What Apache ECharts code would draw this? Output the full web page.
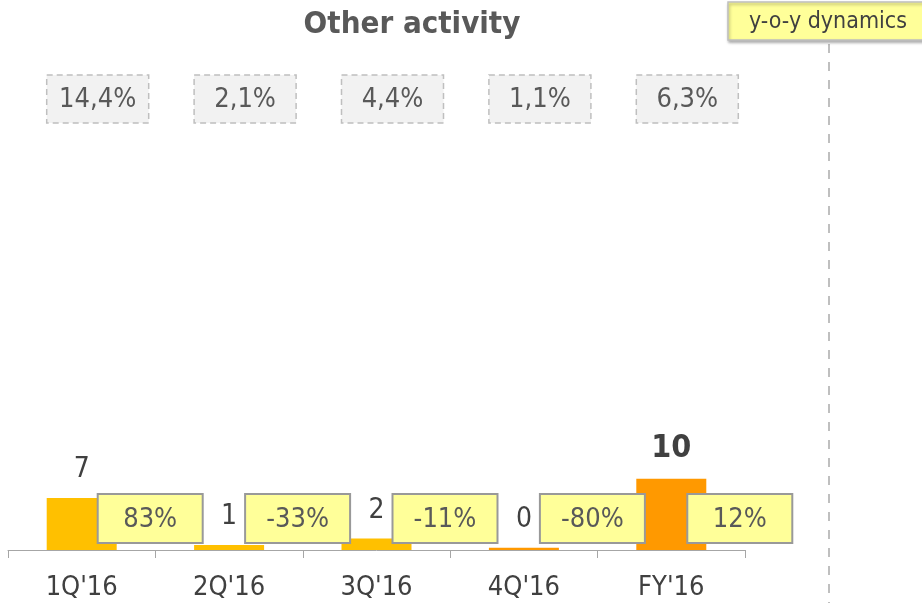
<!DOCTYPE html>
<html>
<head>
<meta charset="utf-8">
<script src="https://cdn.jsdelivr.net/npm/echarts@6/dist/echarts.min.js"></script>
<style>
  html, body { margin: 0; padding: 0; background: #fff; }
  #main { width: 922px; height: 603px; }
</style>
</head>
<body>
<div id="main"></div>
<script>
// data
const categories = ['1Q\'16', '2Q\'16', '3Q\'16', '4Q\'16', 'FY\'16'];
const values = [7.3, 0.7, 1.6, 0.3, 10.0];
const yoyLabels = ['83%', '-33%', '-11%', '-80%', '12%'];
const shareLabels = ['14,4%', '2,1%', '4,4%', '1,1%', '6,3%'];

const FONT = "'DejaVu Sans Condensed', 'Liberation Sans', sans-serif";
const barColors = ['#FFC000', '#FFC000', '#FFC000', '#FF9900', '#FF9900'];

const chart = echarts.init(document.getElementById('main'), null, { renderer: 'canvas' });

// box drawn next to each category, positioned from the category axis
function boxRenderer(labels, opts) {
  return function (params, api) {
    const p = api.coord([api.value(0), 0]);
    const x = p[0] + opts.dx;
    return {
      type: 'group',
      children: [{
        type: 'rect',
        shape: { x: x, y: opts.y, width: opts.w, height: opts.h },
        style: {
          fill: opts.fill,
          stroke: opts.stroke,
          lineWidth: opts.lineWidth,
          lineDash: opts.lineDash || null
        }
      }, {
        type: 'text',
        style: {
          text: labels[params.dataIndex],
          x: x + opts.w / 2,
          y: opts.y + opts.h / 2 + 1,
          align: 'center',
          verticalAlign: 'middle',
          fill: '#595959',
          font: 'normal ' + opts.fontSize + 'px ' + FONT
        }
      }]
    };
  };
}

const option = {
  animation: false,
  title: {
    text: 'Other activity',
    left: 407,
    textAlign: 'center',
    top: 4,
    textStyle: { color: '#595959', fontSize: 31, fontWeight: 'bold', fontFamily: FONT }
  },
  grid: { left: 8, right: 177, top: 52, bottom: 53 },
  xAxis: {
    type: 'category',
    data: categories,
    axisLine: { lineStyle: { color: '#A6A6A6', width: 1 } },
    axisTick: { show: true, alignWithLabel: false, length: 8, lineStyle: { color: '#A6A6A6', width: 1 } },
    axisLabel: { color: '#404040', fontSize: 27, fontFamily: FONT, margin: 24 }
  },
  yAxis: {
    type: 'value',
    min: 0,
    max: 70,
    show: false,
    splitLine: { show: false }
  },
  series: [{
    type: 'bar',
    barWidth: 70,
    data: values.map((v, i) => ({
      value: v,
      itemStyle: { color: barColors[i] },
      label: i === 4 ? { fontWeight: 'bold', fontSize: 32 } : {}
    })),
    label: {
      show: true,
      position: 'top',
      distance: 14,
      color: '#404040',
      fontSize: 28,
      fontFamily: FONT,
      formatter: p => Math.round(p.value)
    }
  }, {
    type: 'custom',
    clip: false,
    z: 5,
    data: categories.map((c, i) => [i, 0]),
    renderItem: boxRenderer(yoyLabels, {
      dx: 16, y: 494, w: 105, h: 49, fill: '#FFFF99', stroke: '#999999', lineWidth: 2, fontSize: 27
    })
  }, {
    type: 'custom',
    clip: false,
    data: categories.map((c, i) => [i, 0]),
    renderItem: boxRenderer(shareLabels, {
      dx: -35, y: 75, w: 102, h: 48, fill: '#F2F2F2', stroke: '#BFBFBF', lineWidth: 1.5, lineDash: [6, 4], fontSize: 27
    })
  }],
  graphic: [{
    type: 'line',
    shape: { x1: 829, y1: 44, x2: 829, y2: 603 },
    style: { stroke: '#BFBFBF', lineWidth: 2, lineDash: [9, 9] }
  }, {
    type: 'rect',
    shape: { x: 728, y: 2, width: 200, height: 38 },
    style: {
      fill: '#FFFF99', stroke: '#BFBFBF', lineWidth: 1.5,
      shadowBlur: 3, shadowOffsetX: 1, shadowOffsetY: 2, shadowColor: 'rgba(0,0,0,0.3)'
    }
  }, {
    type: 'text',
    x: 828,
    y: 22,
    style: {
      text: 'y-o-y dynamics',
      align: 'center',
      verticalAlign: 'middle',
      fill: '#404040',
      font: 'normal 23px ' + FONT
    }
  }]
};

chart.setOption(option);
</script>
</body>
</html>
